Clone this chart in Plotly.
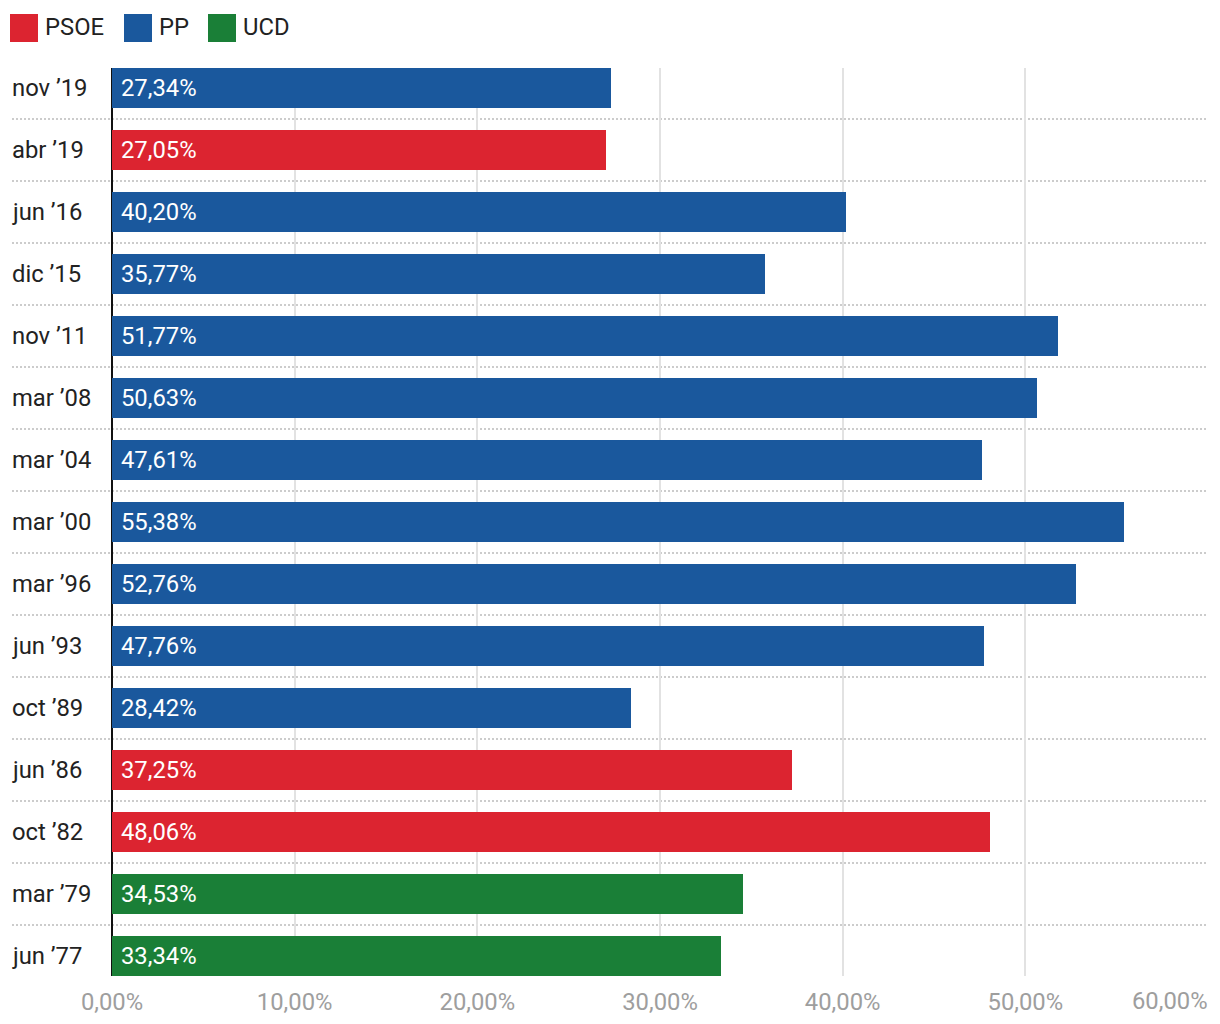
import plotly.graph_objects as go

# ---- data ----
categories = ["nov ’19", "abr ’19", "jun ’16", "dic ’15", "nov ’11", "mar ’08", "mar ’04",
              "mar ’00", "mar ’96", "jun ’93", "oct ’89", "jun ’86", "oct ’82", "mar ’79", "jun ’77"]
values = [27.34, 27.05, 40.20, 35.77, 51.77, 50.63, 47.61, 55.38, 52.76, 47.76, 28.42, 37.25, 48.06, 34.53, 33.34]
parties = ["PP", "PSOE", "PP", "PP", "PP", "PP", "PP", "PP", "PP", "PP", "PP", "PSOE", "PSOE", "UCD", "UCD"]
party_order = ["PSOE", "PP", "UCD"]
party_colors = {"PSOE": "#dc2430", "PP": "#1a589d", "UCD": "#1a7f37"}
x_ticks = [0, 10, 20, 30, 40, 50]
x_ticktext = ["0,00%", "10,00%", "20,00%", "30,00%", "40,00%", "50,00%"]
x_max = 60
x_max_label = "60,00%"

FONT = "Roboto"
FS = 23.8
W, H = 1220, 1024
L, R, T, B = 112, 12, 68, 48
PW, PH = W - L - R, H - T - B


def px_x(px):
    return (px - L) / PW


def px_y(py):
    return (H - B - py) / PH


def fmt(v):
    return f"{v:.2f}".replace(".", ",") + "%"


fig = go.Figure()
n = len(categories)
idx = list(range(n))
for p in party_order:
    xs = [values[i] if parties[i] == p else None for i in idx]
    fig.add_trace(go.Bar(
        x=xs, y=idx, orientation="h", marker=dict(color=party_colors[p], line=dict(width=0)),
        width=40 / 62, showlegend=False, hoverinfo="skip", name=p,
    ))

annotations = []
# value labels inside bars
for i in idx:
    annotations.append(dict(x=0, y=i, xref="x", yref="y", text=fmt(values[i]), showarrow=False,
                            xanchor="left", yanchor="middle", xshift=7,
                            font=dict(family=FONT, size=FS, color="white")))
# category labels
for i in idx:
    annotations.append(dict(x=px_x(10), y=i, xref="paper", yref="y", text=categories[i], showarrow=False,
                            xanchor="left", yanchor="middle",
                            font=dict(family=FONT, size=FS, color="#222222")))
# last x tick label, right aligned
annotations.append(dict(x=1, y=px_y(1001.5), xref="paper", yref="paper", text=x_max_label, showarrow=False,
                        xanchor="right", yanchor="middle", xshift=2,
                        font=dict(family=FONT, size=FS, color="#9e9e9e")))

shapes = []
# dotted separators
for i in range(n - 1):
    shapes.append(dict(type="line", xref="paper", yref="y", x0=px_x(12), x1=1, y0=i + 0.5, y1=i + 0.5,
                       line=dict(color="#cccccc", width=2, dash="2px,2px"), layer="below"))
# custom legend
lx = [10, 124, 208]
for p, x in zip(party_order, lx):
    shapes.append(dict(type="rect", xref="paper", yref="paper", x0=px_x(x), x1=px_x(x + 28),
                       y0=px_y(42), y1=px_y(14), fillcolor=party_colors[p], line=dict(width=0)))
    annotations.append(dict(x=px_x(x + 33), y=px_y(27), xref="paper", yref="paper", text=p, showarrow=False,
                            xanchor="left", yanchor="middle",
                            font=dict(family=FONT, size=FS, color="#222222")))

fig.update_layout(
    width=W, height=H, margin=dict(l=L, r=R, t=T, b=B, autoexpand=False),
    plot_bgcolor="white", paper_bgcolor="white",
    barmode="overlay", bargap=0,
    font=dict(family=FONT, size=FS, color="#222222"),
    annotations=annotations, shapes=shapes,
    xaxis=dict(range=[0, x_max], tickvals=x_ticks + [x_max], ticktext=x_ticktext + [""],
               showgrid=True, gridcolor="#e2e2e2", gridwidth=2,
               zeroline=True, zerolinecolor="#111111", zerolinewidth=2,
               tickfont=dict(family=FONT, size=FS, color="#9e9e9e"), ticks="", ticklabelstandoff=9,
               automargin=False, fixedrange=True),
    yaxis=dict(range=[n - 1 + 20 / 62, -20 / 62], showticklabels=False, showgrid=False, zeroline=False,
               ticks="", automargin=False, fixedrange=True),
    showlegend=False,
)

fig.write_html("out.html", config={"displayModeBar": False},
               post_script="document.body.style.margin='0';document.documentElement.style.overflow='hidden';")
